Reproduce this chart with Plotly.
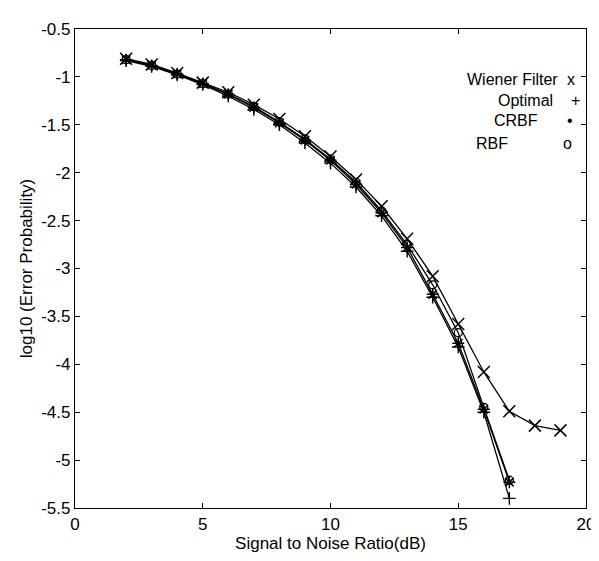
import plotly.graph_objects as go

snr_wiener = [2, 3, 4, 5, 6, 7, 8, 9, 10, 11, 12, 13, 14, 15, 16, 17, 18, 19]
wiener = [-0.81, -0.87, -0.96, -1.06, -1.16, -1.29, -1.44, -1.62, -1.83, -2.07,
          -2.35, -2.69, -3.08, -3.58, -4.08, -4.49, -4.64, -4.69]

snr = [2, 3, 4, 5, 6, 7, 8, 9, 10, 11, 12, 13, 14, 15, 16, 17]
rbf = [-0.82, -0.88, -0.97, -1.07, -1.18, -1.31, -1.47, -1.65, -1.86, -2.10,
       -2.40, -2.75, -3.17, -3.67, -4.45, -5.21]
crbf = [-0.82, -0.88, -0.97, -1.07, -1.18, -1.32, -1.48, -1.66, -1.87, -2.12,
        -2.42, -2.78, -3.27, -3.78, -4.47, -5.23]
optimal = [-0.83, -0.89, -0.98, -1.08, -1.20, -1.34, -1.50, -1.69, -1.90, -2.15,
           -2.45, -2.82, -3.30, -3.82, -4.50, -5.40]

legend_labels = ["Wiener Filter", "Optimal", "CRBF", "RBF"]
legend_symbols = ["x", "+", "\u2022", "o"]

x_ticks = [0, 5, 10, 15, 20]
y_ticks = [-0.5, -1, -1.5, -2, -2.5, -3, -3.5, -4, -4.5, -5, -5.5]

FONT = "Liberation Sans, Arial, sans-serif"
LW = 1.3

fig = go.Figure()
fig.add_trace(go.Scatter(x=snr_wiener, y=wiener, mode="lines+markers",
                         line=dict(color="black", width=LW),
                         marker=dict(symbol="x-thin-open", size=12,
                                     line=dict(color="black", width=1.5))))
fig.add_trace(go.Scatter(x=snr, y=optimal, mode="lines+markers",
                         line=dict(color="black", width=LW),
                         marker=dict(symbol="cross-thin-open", size=9,
                                     line=dict(color="black", width=1.4))))
fig.add_trace(go.Scatter(x=snr, y=crbf, mode="lines+markers",
                         line=dict(color="black", width=LW),
                         marker=dict(symbol="asterisk-open", size=10,
                                     line=dict(color="black", width=1.5))))
fig.add_trace(go.Scatter(x=snr, y=rbf, mode="lines+markers",
                         line=dict(color="black", width=LW),
                         marker=dict(symbol="circle-open", size=8,
                                     line=dict(color="black", width=1.3))))

# legend text (MATLAB-style text annotations), positions in data units
label_pos = [(17.11, -1.03), (17.65, -1.245), (17.25, -1.46), (16.34, -1.69)]
symbol_pos = [(19.42, -1.03), (19.58, -1.245), (19.38, -1.46), (19.27, -1.69)]
for lab, (lx, ly) in zip(legend_labels, label_pos):
    fig.add_annotation(x=lx, y=ly, text=lab, showarrow=False, xref="x", yref="y",
                       borderpad=0,
                       font=dict(family=FONT, size=16, color="black"))
for sym, (sx, sy) in zip(legend_symbols, symbol_pos):
    fig.add_annotation(x=sx, y=sy, text=sym, showarrow=False, xref="x", yref="y",
                       borderpad=0,
                       font=dict(family=FONT, size=16, color="black"))

fig.update_layout(
    width=599, height=561,
    margin=dict(l=67, r=13, t=14, b=61),
    paper_bgcolor="white", plot_bgcolor="white",
    showlegend=False,
    font=dict(family=FONT, size=17, color="black"),
)
fig.update_xaxes(range=[0, 20], tickvals=x_ticks, ticktext=[str(v) for v in x_ticks],
                 ticks="inside", ticklen=5, tickcolor="black", showgrid=False,
                 zeroline=False, showline=True, linecolor="black", linewidth=1.2,
                 mirror="ticks",
                 title=dict(text="Signal to Noise Ratio(dB)", standoff=4,
                            font=dict(family=FONT, size=17)))
fig.update_yaxes(range=[-5.5, -0.5], tickvals=y_ticks, ticktext=[f"{v:g}" for v in y_ticks],
                 ticks="inside", ticklen=5, tickcolor="black", showgrid=False,
                 zeroline=False, showline=True, linecolor="black", linewidth=1.2,
                 mirror="ticks",
                 title=dict(text="log10 (Error Probability)", standoff=4,
                            font=dict(family=FONT, size=17)))

fig.write_html("out.html")
